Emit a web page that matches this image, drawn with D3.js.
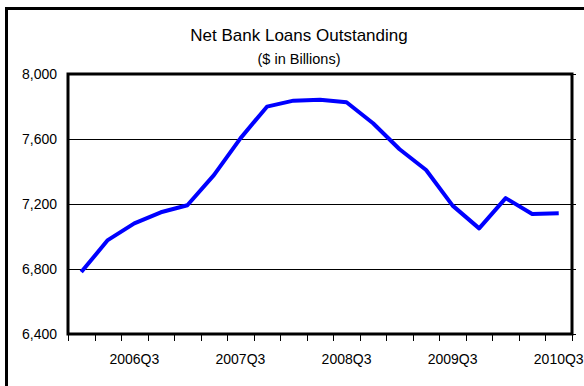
<!DOCTYPE html>
<html>
<head>
<meta charset="utf-8">
<script src="https://cdn.jsdelivr.net/npm/d3@7"></script>
<style>
  html, body { margin: 0; padding: 0; background: #fff; overflow: hidden; }
  svg { display: block; font-family: "Liberation Sans", Arial, Helvetica, sans-serif; }
</style>
</head>
<body>
<svg id="chart" width="584" height="386"></svg>
<script>
const quarters = [
  "2006Q1","2006Q2","2006Q3","2006Q4",
  "2007Q1","2007Q2","2007Q3","2007Q4",
  "2008Q1","2008Q2","2008Q3","2008Q4",
  "2009Q1","2009Q2","2009Q3","2009Q4",
  "2010Q1","2010Q2","2010Q3"
];
const loans = [
  6781, 6978, 7081, 7149, 7192, 7378, 7604, 7799, 7836, 7842,
  7826, 7697, 7537, 7409, 7190, 7050, 7236, 7138, 7143
];
const yTicks = [6400, 6800, 7200, 7600, 8000];
const xLabels = ["2006Q3", "2007Q3", "2008Q3", "2009Q3", "2010Q3"];
const titleText = "Net Bank Loans Outstanding";
const subtitleText = "($ in Billions)";

const svg = d3.select("#chart");
const W = 584, H = 386;
const plot = { left: 68, right: 572, top: 74, bottom: 334 };

svg.append("rect").attr("width", W).attr("height", H).attr("fill", "#fff");

// outer frame: only left and top edges are inside the view
svg.append("path")
  .attr("d", `M6.5,${H + 10}V8.5H${W + 10}`)
  .attr("fill", "none").attr("stroke", "#000").attr("stroke-width", 3);

const x = d3.scaleBand().domain(quarters).range([plot.left, plot.right]).padding(0);
const y = d3.scaleLinear().domain([6400, 8000]).range([plot.bottom, plot.top]);

// gridlines
svg.append("g").selectAll("line").data(yTicks.slice(1, -1)).join("line")
  .attr("x1", plot.left).attr("x2", plot.right)
  .attr("y1", d => Math.round(y(d)) + 0.5).attr("y2", d => Math.round(y(d)) + 0.5)
  .attr("stroke", "#000").attr("stroke-width", 1);

// right-side small ticks
svg.append("g").selectAll("line").data(yTicks).join("line")
  .attr("x1", plot.right).attr("x2", plot.right + 4)
  .attr("y1", d => Math.round(y(d)) + 0.5).attr("y2", d => Math.round(y(d)) + 0.5)
  .attr("stroke", "#000").attr("stroke-width", 1);

// y labels
svg.append("g").selectAll("text").data(yTicks).join("text")
  .attr("x", plot.left - 11).attr("y", d => y(d))
  .attr("dy", "0.35em")
  .attr("text-anchor", "end")
  .attr("font-size", 14)
  .attr("fill", "#000")
  .text(d3.format(","));

// x axis boundary ticks
const boundaries = quarters.map(q => x(q)).concat([x(quarters[quarters.length - 1]) + x.bandwidth()]);
svg.append("g").selectAll("line").data(boundaries).join("line")
  .attr("x1", d => Math.round(d) + 0.5).attr("x2", d => Math.round(d) + 0.5)
  .attr("y1", plot.bottom).attr("y2", plot.bottom + 7)
  .attr("stroke", "#000").attr("stroke-width", 1);

// x labels via axis
const xAxis = d3.axisBottom(x).tickValues(xLabels).tickSize(0).tickPadding(0);
const gx = svg.append("g").attr("transform", `translate(0,${plot.bottom + 20})`).call(xAxis);
gx.select(".domain").remove();
gx.selectAll("text").attr("font-size", 14).attr("fill", "#000")
  .attr("font-family", "'Liberation Sans', Arial, Helvetica, sans-serif");

// plot border
svg.append("rect")
  .attr("x", plot.left).attr("y", plot.top)
  .attr("width", plot.right - plot.left).attr("height", plot.bottom - plot.top)
  .attr("fill", "none").attr("stroke", "#000").attr("stroke-width", 3);

// line
const line = d3.line()
  .x((d, i) => x(quarters[i]) + x.bandwidth() / 2)
  .y(d => y(d));
svg.append("path").datum(loans)
  .attr("d", line)
  .attr("fill", "none")
  .attr("stroke", "#0000ff")
  .attr("stroke-width", 4)
  .attr("stroke-linejoin", "round");

// titles
svg.append("text").attr("x", 299).attr("y", 41)
  .attr("text-anchor", "middle").attr("font-size", 17).attr("fill", "#000")
  .text(titleText);
svg.append("text").attr("x", 299).attr("y", 64)
  .attr("text-anchor", "middle").attr("font-size", 14.5).attr("fill", "#000")
  .text(subtitleText);
</script>
</body>
</html>
